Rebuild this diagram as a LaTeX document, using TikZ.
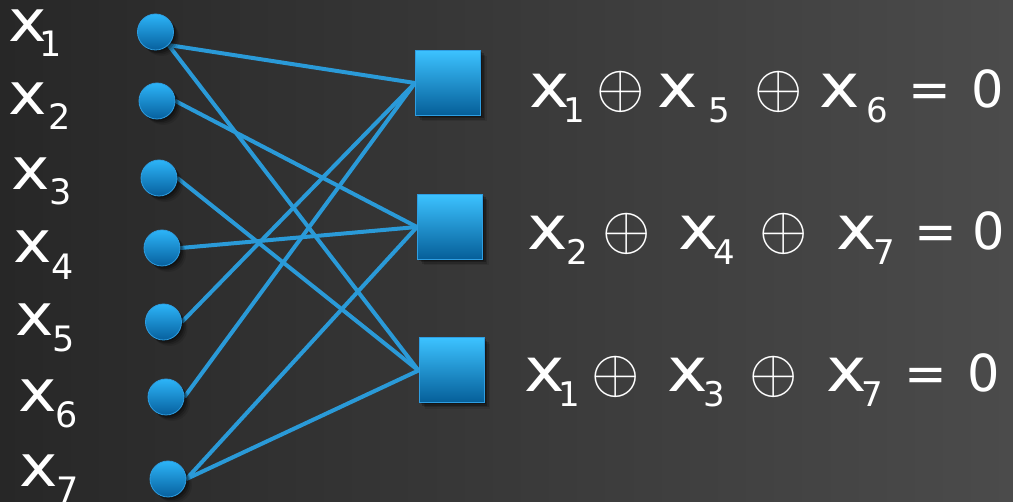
\documentclass[tikz,border=0pt]{standalone}
\usepackage{fontspec}
\setmainfont{DejaVu Sans}
\usetikzlibrary{shadows}

\definecolor{bgleft}{HTML}{272727}
\definecolor{bgright}{HTML}{4B4B4B}
\definecolor{wireblue}{HTML}{2A9AD8}
\definecolor{rimblue}{HTML}{2E9EE2}
\definecolor{balltop}{HTML}{2CB4F8}
\definecolor{ballmid}{HTML}{089FE6}
\definecolor{ballbot}{HTML}{07609E}
\definecolor{boxtop}{HTML}{3CC2FF}
\definecolor{boxmid}{HTML}{01A3EB}
\definecolor{boxbot}{HTML}{055E98}

\pgfdeclarelayer{bg}
\pgfdeclarelayer{wires}
\pgfsetlayers{bg,wires,main}

\tikzset{
  softshadow/.style={
    drop shadow={shadow xshift=1.5pt, shadow yshift=-1.5pt, opacity=0.28, fill=black},
    drop shadow={shadow xshift=3pt, shadow yshift=-3pt, opacity=0.24, fill=black},
    drop shadow={shadow xshift=4.5pt, shadow yshift=-4.5pt, opacity=0.17, fill=black},
    drop shadow={shadow xshift=6pt, shadow yshift=-6pt, opacity=0.1, fill=black}},
  varnode/.style={circle, minimum size=36pt, inner sep=0pt, draw=rimblue, line width=0.8pt,
    top color=balltop, middle color=ballmid, bottom color=ballbot, softshadow},
  checknode/.style={rectangle, minimum size=65pt, inner sep=0pt, draw=rimblue, line width=1pt,
    top color=boxtop, middle color=boxmid, bottom color=boxbot, softshadow},
  wire/.style={wireblue, line width=4pt},
  varx/.style={text=white, inner sep=0pt, anchor=base, font=\fontsize{58}{58}\selectfont},
  varsub/.style={text=white, inner sep=0pt, anchor=base, font=\fontsize{35}{35}\selectfont},
  eqx/.style={text=white, inner sep=0pt, anchor=base, font=\fontsize{61}{61}\selectfont},
  eqsub/.style={text=white, inner sep=0pt, anchor=base, font=\fontsize{34}{34}\selectfont},
  eqrel/.style={text=white, inner sep=0pt, anchor=base, font=\fontsize{51}{51}\selectfont},
  xorsym/.style={text=white, inner sep=0pt, anchor=center},
}
\newcommand{\xorglyph}{\scalebox{2.5}{\fontsize{25}{25}\selectfont$\oplus$}}
\newcommand{\wx}{\scalebox{1.12}[1]{x}}

\begin{document}
\begin{tikzpicture}[x=1pt,y=-1pt]
  % backdrop
  \begin{pgfonlayer}{bg}
    \shade[left color=bgleft, right color=bgright] (0,0) rectangle (1013,502);
  \end{pgfonlayer}
  \useasboundingbox (0,0) rectangle (1013,502);

  % variable nodes
  \node[varnode] (v1) at (155.5,32) {};
  \node[varnode] (v2) at (157,101) {};
  \node[varnode] (v3) at (159,178) {};
  \node[varnode] (v4) at (162,248) {};
  \node[varnode] (v5) at (163.5,322) {};
  \node[varnode] (v6) at (166,397) {};
  \node[varnode] (v7) at (168,479) {};

  % check nodes
  \node[checknode] (c1) at (448,83) {};
  \node[checknode] (c2) at (450,227) {};
  \node[checknode] (c3) at (451.5,370.5) {};

  % edges of the Tanner graph
  \begin{pgfonlayer}{wires}
    \draw[wire] (v1.south east) -- (c1.west);
    \draw[wire] (v1.south east) -- (c3.west);
    \draw[wire] (v2.east) -- (c2.west);
    \draw[wire] (v3.east) -- (c3.west);
    \draw[wire] (v4.east) -- (c2.west);
    \draw[wire] (v5.east) -- (c1.west);
    \draw[wire] (v6.east) -- (c1.west);
    \draw[wire] (v7.east) -- (c2.west);
    \draw[wire] (v7.east) -- (c3.west);
  \end{pgfonlayer}

  % variable labels
  \node[varx] (lx1) at (27.5,42) {\wx};  \node[varsub] (ls1) at (51,57) {1};
  \node[varx] (lx2) at (28,115) {\wx};   \node[varsub] (ls2) at (60,130) {2};
  \node[varx] (lx3) at (31,190) {\wx};   \node[varsub] (ls3) at (61,205) {3};
  \node[varx] (lx4) at (32.5,263) {\wx}; \node[varsub] (ls4) at (63,280) {4};
  \node[varx] (lx5) at (35,336) {\wx};   \node[varsub] (ls5) at (64,352) {5};
  \node[varx] (lx6) at (38,412) {\wx};   \node[varsub] (ls6) at (67,428) {6};
  \node[varx] (lx7) at (39,487) {\wx};   \node[varsub] (ls7) at (67.5,503) {7};

  % parity check equations
  \node[eqx] (ax1) at (549.5,108) {\wx}; \node[eqsub] (as1) at (574,123) {1};
  \node[xorsym] (ao1) at (621,92) {\xorglyph};
  \node[eqx] (ax2) at (678,108) {\wx};   \node[eqsub] (as2) at (719,123) {5};
  \node[xorsym] (ao2) at (779,92) {\xorglyph};
  \node[eqx] (ax3) at (840,108) {\wx};   \node[eqsub] (as3) at (877,123) {6};
  \node[eqrel] (aeq) at (930,108) {=};
  \node[eqrel] (azero) at (988,108) {0};

  \node[eqx] (bx1) at (547.5,250) {\wx}; \node[eqsub] (bs1) at (577,265) {2};
  \node[xorsym] (bo1) at (627,234) {\xorglyph};
  \node[eqx] (bx2) at (699,250) {\wx};   \node[eqsub] (bs2) at (724,265) {4};
  \node[xorsym] (bo2) at (784,234) {\xorglyph};
  \node[eqx] (bx3) at (857,250) {\wx};   \node[eqsub] (bs3) at (884,265) {7};
  \node[eqrel] (beq) at (936,250) {=};
  \node[eqrel] (bzero) at (989,250) {0};

  \node[eqx] (cx1) at (545,392) {\wx};   \node[eqsub] (cs1) at (569,407) {1};
  \node[xorsym] (co1) at (616,377) {\xorglyph};
  \node[eqx] (cx2) at (688,392) {\wx};   \node[eqsub] (cs2) at (714,407) {3};
  \node[xorsym] (co2) at (774,377) {\xorglyph};
  \node[eqx] (cx3) at (847,392) {\wx};   \node[eqsub] (cs3) at (872,407) {7};
  \node[eqrel] (ceq) at (926,392) {=};
  \node[eqrel] (czero) at (984,392) {0};
\end{tikzpicture}
\end{document}
